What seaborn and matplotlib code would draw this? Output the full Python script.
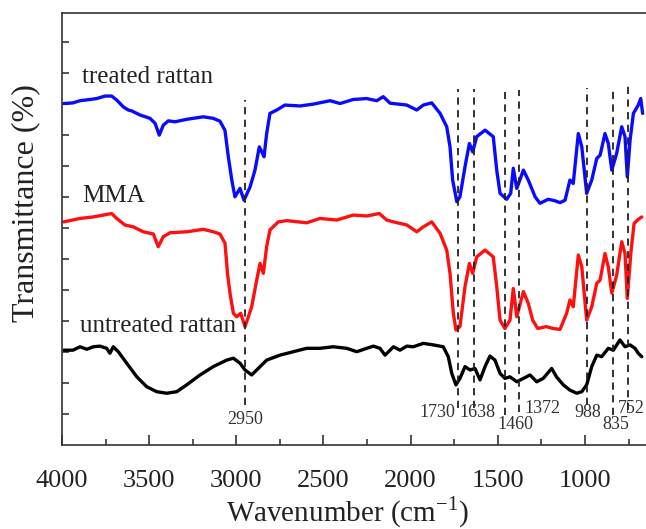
import numpy as np
import pandas as pd
import seaborn as sns
import matplotlib.pyplot as plt
from matplotlib.ticker import MultipleLocator

sns.set_theme(style="ticks")
plt.rcParams['font.family'] = ['Liberation Serif', 'DejaVu Serif']
plt.rcParams['mathtext.fontset'] = 'custom'
plt.rcParams['mathtext.rm'] = 'Liberation Serif'

# treated rattan (blue)
treated_wn = [3990, 3937, 3897, 3839, 3801, 3753, 3715, 3686, 3648, 3620, 3600, 3553,
              3495, 3466, 3442, 3419, 3390, 3352, 3285, 3189, 3132, 3094, 3065, 3046,
              3026, 3008, 2979, 2956, 2921, 2893, 2868, 2854, 2841, 2826, 2807, 2768,
              2721, 2635, 2558, 2462, 2405, 2329, 2252, 2195, 2157, 2118, 2022, 1965,
              1927, 1879, 1831, 1793, 1774, 1759, 1735, 1717, 1688, 1663, 1644, 1621,
              1573, 1526, 1506, 1487, 1449, 1426, 1411, 1391, 1353, 1325, 1286, 1258,
              1210, 1172, 1143, 1114, 1086, 1067, 1038, 1018, 990, 961, 932, 913,
              885, 866, 846, 818, 789, 770, 757, 741, 722, 694, 680, 669]
treated_t = [110.2, 110.4, 111.1, 111.5, 111.8, 112.6, 112.6, 111.3, 109.1, 108.1, 107.8, 106.5,
             105.4, 103.8, 100.0, 103.2, 104.6, 104.3, 105.1, 105.9, 105.4, 104.5, 101.5, 93.0,
             85.5, 80.1, 82.8, 79.0, 83.3, 88.7, 96.2, 94.6, 93.0, 100.5, 107.0, 108.1,
             109.7, 109.4, 110.0, 111.1, 110.2, 111.5, 111.8, 111.1, 112.4, 110.3, 109.7, 108.1,
             109.7, 110.4, 107.0, 102.7, 96.2, 85.5, 78.5, 80.1, 89.8, 97.3, 94.6, 99.5,
             101.6, 99.5, 88.7, 81.2, 79.3, 81.2, 89.3, 82.8, 88.7, 85.5, 80.1, 78.0,
             79.3, 78.8, 78.2, 79.0, 85.5, 84.4, 100.5, 96.2, 81.2, 85.5, 92.5, 93.5,
             100.5, 97.3, 88.7, 94.1, 102.7, 99.5, 86.5, 98.4, 107.0, 109.7, 111.8, 107.0]

# MMA (red)
mma_wn = [3990, 3897, 3820, 3763, 3715, 3686, 3639, 3591, 3534, 3476, 3448, 3419,
          3380, 3285, 3189, 3132, 3094, 3065, 3050, 3036, 3017, 2998, 2975, 2950,
          2912, 2883, 2864, 2845, 2826, 2807, 2759, 2711, 2596, 2520, 2424, 2329,
          2252, 2180, 2137, 2099, 2022, 1965, 1927, 1879, 1831, 1793, 1774, 1755,
          1740, 1717, 1688, 1663, 1644, 1621, 1573, 1526, 1506, 1487, 1459, 1430,
          1411, 1391, 1353, 1325, 1300, 1271, 1222, 1184, 1143, 1105, 1086, 1067,
          1038, 1018, 990, 961, 932, 913, 885, 866, 846, 818, 789, 770,
          757, 737, 718, 694, 674]
mma_t = [72.0, 73.1, 73.6, 74.2, 74.7, 73.1, 71.0, 70.4, 68.8, 68.1, 64.0, 67.2,
         68.5, 68.8, 69.6, 68.8, 68.1, 65.1, 55.0, 48.9, 42.5, 41.4, 42.5, 38.2,
         44.6, 53.2, 58.6, 55.4, 64.0, 69.4, 72.0, 72.4, 71.7, 73.1, 72.6, 74.2,
         73.9, 74.7, 72.6, 72.0, 71.0, 68.8, 70.4, 72.0, 68.3, 62.9, 55.4, 42.5,
         37.1, 38.2, 51.1, 58.6, 55.4, 60.7, 62.9, 60.7, 51.1, 40.3, 37.6, 40.3,
         50.5, 41.4, 49.5, 45.7, 40.3, 37.6, 38.2, 37.6, 37.3, 42.5, 46.8, 44.6,
         61.3, 57.5, 40.3, 44.6, 52.2, 53.2, 61.8, 57.5, 49.0, 54.8, 65.6, 61.8,
         47.3, 61.8, 71.5, 72.8, 73.6]

# untreated rattan (black)
untreated_wn = [3990, 3937, 3897, 3858, 3820, 3782, 3744, 3725, 3706, 3677, 3629, 3571,
                3514, 3457, 3399, 3342, 3285, 3208, 3132, 3055, 3017, 2979, 2950, 2912,
                2874, 2826, 2749, 2673, 2596, 2520, 2444, 2367, 2309, 2252, 2214, 2176,
                2147, 2118, 2099, 2061, 2022, 1985, 1927, 1870, 1813, 1784, 1764, 1740,
                1717, 1688, 1659, 1631, 1602, 1573, 1545, 1516, 1487, 1459, 1430, 1391,
                1353, 1315, 1277, 1239, 1191, 1162, 1124, 1086, 1047, 1018, 990, 961,
                932, 904, 866, 837, 799, 770, 741, 713, 694, 674]
untreated_t = [30.6, 30.6, 31.7, 30.9, 31.7, 31.9, 31.2, 29.6, 31.7, 30.1, 26.4, 22.0,
               18.8, 17.2, 16.7, 17.2, 19.4, 22.6, 25.3, 27.4, 28.0, 26.4, 24.2, 22.6,
               24.7, 27.4, 29.0, 30.1, 31.2, 31.2, 31.7, 31.2, 30.1, 31.2, 31.9, 31.2,
               29.0, 30.6, 31.7, 30.6, 31.9, 31.7, 32.8, 32.3, 31.7, 28.5, 23.1, 19.4,
               21.5, 25.3, 24.2, 24.7, 21.0, 25.3, 28.7, 27.4, 23.1, 21.5, 22.0, 20.4,
               21.5, 22.6, 20.4, 21.5, 24.7, 21.9, 19.4, 17.7, 16.7, 17.2, 19.4, 25.3,
               29.0, 28.5, 31.2, 30.6, 33.9, 31.7, 32.3, 31.2, 29.6, 28.5]

# marked peaks: dashed line extents and label placement
peak_wn = [2950, 1730, 1638, 1460, 1380, 988, 838, 752]
peak_top = [111.3, 114.8, 114.8, 113.9, 114.5, 115.2, 115.2, 116.1]
peak_bottom = [12.9, 11.9, 11.9, 9.7, 10.6, 12.9, 9.7, 11.3]
peak_labels = ['2950', '1730', '1638', '1460', '1372', '988', '835', '752']
label_wn = [2950, 1849, 1619, 1401, 1246, 982, 822, 732]
label_t = [8.1, 10.6, 10.6, 6.5, 11.9, 10.6, 6.5, 11.9]

curve_names = ['treated rattan', 'MMA', 'untreated rattan']
curve_label_wn = [3885, 3885, 3897]
curve_label_t = [116.8, 78.4, 36.5]

fig = plt.figure(figsize=(6.46, 5.29), dpi=100)
ax = fig.add_axes([0.096, 0.1588, 0.9174, 0.8166])

for wn, t, c in [(treated_wn, treated_t, '#0a0aff'),
                 (mma_wn, mma_t, '#ff1010'),
                 (untreated_wn, untreated_t, 'black')]:
    df = pd.DataFrame({'wn': wn, 't': t})
    sns.lineplot(data=df, x='wn', y='t', sort=False, estimator=None,
                 color=c, linewidth=2.4, ax=ax)

ax.vlines(peak_wn, peak_bottom, peak_top, colors='#222222', linestyles=(0, (4, 3)),
          linewidth=1.3, zorder=5)

for name, x, y in zip(curve_names, curve_label_wn, curve_label_t):
    ax.text(x, y, name, fontsize=18, ha='left', va='baseline', color='#222222')

for lab, x, y in zip(peak_labels, label_wn, label_t):
    ax.text(x, y, lab, fontsize=13, ha='center', va='center', color='#333333')

ax.set_xlim(4000, 600)
ax.set_ylim(0, 139.4)
ax.xaxis.set_major_locator(MultipleLocator(500))
ax.xaxis.set_minor_locator(MultipleLocator(250))
ax.set_yticks(np.arange(10, 140, 10))
ax.set_yticklabels([])
ax.tick_params(axis='x', which='major', direction='in', length=7, width=1.1,
               labelsize=19, pad=18, colors='#222222')
ax.tick_params(axis='x', which='minor', direction='in', length=4, width=1.1)
ax.tick_params(axis='y', direction='in', length=5, width=1.1)
ax.tick_params(top=False, right=False)

ax.set_xlabel(r'Wavenumber (cm$^{\mathrm{-1}}$)', fontsize=21, va='center', color='#222222')
ax.xaxis.set_label_coords(0.481, -0.155)
ax.set_ylabel('Transmittance (%)', fontsize=23, va='center', color='#222222')
ax.yaxis.set_label_coords(-0.062, 0.56)

for s in ['left', 'bottom', 'top']:
    ax.spines[s].set_color('#333333')
    ax.spines[s].set_linewidth(1.2)
ax.spines['right'].set_visible(False)

fig.savefig('out.png', dpi=100)
